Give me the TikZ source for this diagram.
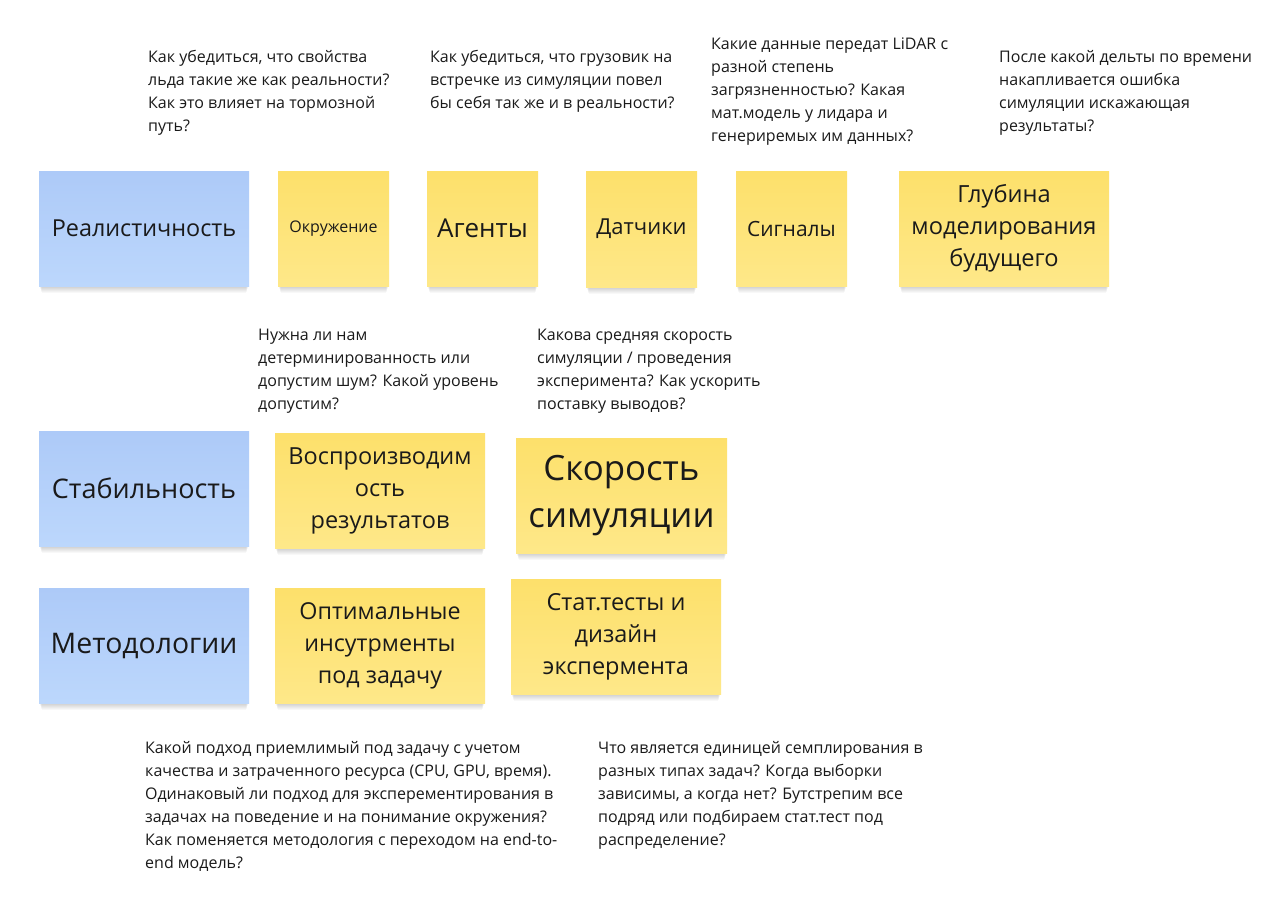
\documentclass[tikz,border=0pt]{standalone}
\usepackage{fontspec}
\setmainfont{Open Sans}
\definecolor{bluetop}{HTML}{ADCAF8}
\definecolor{bluebot}{HTML}{BCD7FC}
\definecolor{yeltop}{HTML}{FDE06B}
\definecolor{yelbot}{HTML}{FEE889}
\definecolor{txt}{HTML}{1A1A1A}
\tikzset{
  sticky/.style={inner sep=0pt, align=center, text=txt},
  bluebox/.style={sticky, top color=bluetop, bottom color=bluebot},
  yelbox/.style={sticky, top color=yeltop, bottom color=yelbot},
  shadowlayer/.style={fill=black, fill opacity=0.028},
  label/.style={text=txt, align=center},
  note/.style={anchor=north west, inner sep=0pt, align=left, text=txt,
    font=\fontsize{16}{23}\selectfont},
}
\newcommand{\boxat}[6]{% name, style, x1, y1, x2, y2
  \foreach \s in {1,...,7}{
    \path[shadowlayer] ({#3+0.4*\s},{#4+\s}) rectangle ({#5-0.4*\s},{#6+\s});
  }
  \path[#2] (#3,#4) rectangle (#5,#6);
  \coordinate (#1) at ({(#3+#5)/2},{(#4+#6)/2});
}
\begin{document}
\begin{tikzpicture}[x=1pt,y=-1pt]
\useasboundingbox[fill=white] (0,0) rectangle (1280,905);

% row 1
\boxat{real}{bluebox}{39}{171}{249}{286}
\node[label, font=\fontsize{23.4}{32}\selectfont] (realT) at (real) {Реалистичность};
\boxat{okr}{yelbox}{278}{171}{389}{286}
\node[label, font=\fontsize{16}{22}\selectfont] (okrT) at (okr) {Окружение};
\boxat{agn}{yelbox}{427}{171}{538}{286}
\node[label, font=\fontsize{26}{32}\selectfont] (agnT) at (agn) {Агенты};
\boxat{dat}{yelbox}{586}{171}{697}{287}
\node[label, font=\fontsize{22}{32}\selectfont] (datT) at (dat) {Датчики};
\boxat{sig}{yelbox}{736}{171}{847}{286}
\node[label, font=\fontsize{21}{32}\selectfont] (sigT) at (sig) {Сигналы};
\boxat{glu}{yelbox}{899}{171}{1109}{286}
\node[label, font=\fontsize{23.6}{32}\selectfont] (gluT) at (glu) {Глубина\\моделирования\\будущего};

% row 2
\boxat{stab}{bluebox}{39}{431}{249}{546}
\node[label, font=\fontsize{27}{32}\selectfont] (stabT) at (stab) {Стабильность};
\boxat{vos}{yelbox}{275}{433}{485}{548}
\node[label, font=\fontsize{23.5}{32}\selectfont] (vosT) at (vos) {Воспроизводим\\ость\\результатов};
\boxat{sko}{yelbox}{516}{438}{727}{553}
\node[label, font=\fontsize{34.8}{47}\selectfont] (skoT) at (sko) {Скорость\\симуляции};

% row 3
\boxat{met}{bluebox}{39}{588}{249}{703}
\node[label, font=\fontsize{28.4}{32}\selectfont] (metT) at (met) {Методологии};
\boxat{opt}{yelbox}{275}{588}{485}{703}
\node[label, font=\fontsize{23.3}{32}\selectfont] (optT) at (opt) {Оптимальные\\инсутрменты\\под задачу};
\boxat{stt}{yelbox}{511}{579}{721}{694}
\node[label, font=\fontsize{23.5}{32}\selectfont] (sttT) at (stt) {Стат.тесты и\\дизайн\\эксперментa};

% notes
\node[note] (n1) at (148,50) {Как убедиться, что свойства\\льда такие же как реальности?\\Как это влияет на тормозной\\путь?};
\node[note] (n2) at (430,50) {Как убедиться, что грузовик на\\встречке из симуляции повел\\бы себя так же и в реальности?};
\node[note] (n3) at (711,38) {Какие данные передат LiDAR с\\разной степень\\загрязненностью? Какая\\мат.модель у лидара и\\генериремых им данных?};
\node[note] (n4) at (999,50) {После какой дельты по времени\\накапливается ошибка\\симуляции искажающая\\результаты?};
\node[note] (n5) at (258,329) {Нужна ли нам\\детерминированность или\\допустим шум? Какой уровень\\допустим?};
\node[note] (n6) at (537,329) {Какова средняя скорость\\симуляции / проведения\\эксперимента? Как ускорить\\поставку выводов?};
\node[note] (n7) at (145,741) {Какой подход приемлимый под задачу с учетом\\качества и затраченного ресурса (CPU, GPU, время).\\Одинаковый ли подход для эксперементирования в\\задачах на поведение и на понимание окружения?\\Как поменяется методология с переходом на end-to-\\end модель?};
\node[note] (n8) at (598,741) {Что является единицей семплирования в\\разных типах задач? Когда выборки\\зависимы, а когда нет? Бутстрепим все\\подряд или подбираем стат.тест под\\распределение?};
\end{tikzpicture}
\end{document}
